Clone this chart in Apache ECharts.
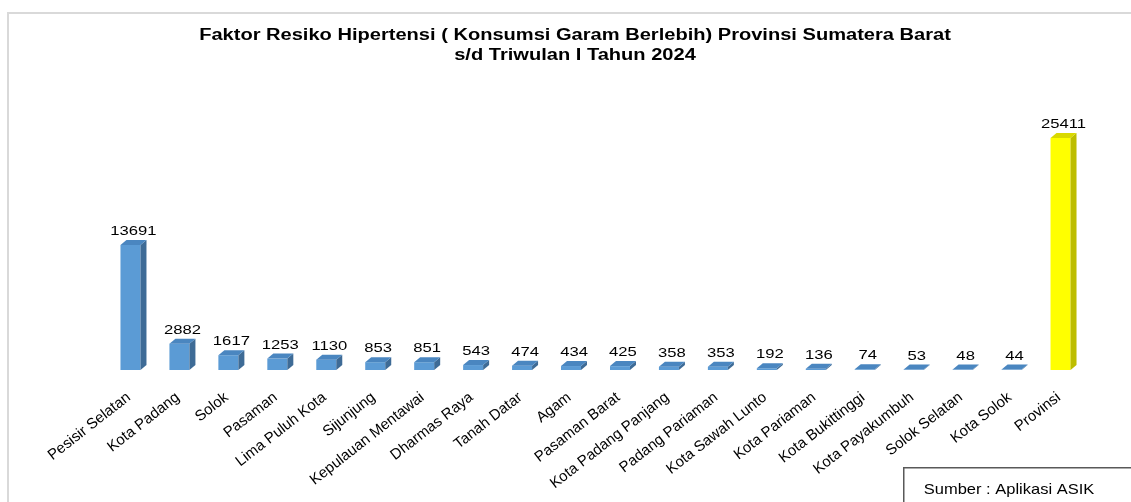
<!DOCTYPE html>
<html>
<head>
<meta charset="utf-8">
<script src="https://cdn.jsdelivr.net/npm/echarts@6/dist/echarts.min.js"></script>
<style>
  html, body { margin: 0; padding: 0; background: #fff; }
  #chart { width: 1131px; height: 502px; }
</style>
</head>
<body>
<div id="chart"></div>
<script>
const titleLines = ['Faktor Resiko Hipertensi ( Konsumsi Garam Berlebih) Provinsi Sumatera Barat', 's/d Triwulan I Tahun 2024']
const categories = ['Pesisir Selatan', 'Kota Padang', 'Solok', 'Pasaman', 'Lima Puluh Kota', 'Sijunjung',
  'Kepulauan Mentawai', 'Dharmas Raya', 'Tanah Datar', 'Agam', 'Pasaman Barat', 'Kota Padang Panjang',
  'Padang Pariaman', 'Kota Sawah Lunto', 'Kota Pariaman', 'Kota Bukittinggi', 'Kota Payakumbuh',
  'Solok Selatan', 'Kota Solok', 'Provinsi']
const values = [13691, 2882, 1617, 1253, 1130, 853, 851, 543, 474, 434, 425, 358, 353, 192, 136, 74, 53, 48, 44, 25411]
const highlightName = 'Provinsi'
const sourceText = 'Sumber : Aplikasi ASIK'

const FONT = '"Liberation Sans", Arial, sans-serif'
// the original picture is a bit stretched sideways
const stretch = 1.28

const chart = echarts.init(document.getElementById('chart'))

const colors = {
  normal: { front: '#5b9bd5', side: '#3e6b96', top: '#4a86c0' },
  highlight: { front: '#ffff00', side: '#bdbd00', top: '#d9d900' }
}

function renderBar(params, api) {
  const idx = api.value(0)
  const base = api.coord([idx, 0])
  const top = api.coord([idx, api.value(1)])
  const w = 20
  const dx = 6
  const dy = 5
  const x0 = top[0] - w / 2 - dx / 2
  const x1 = x0 + w
  const c = categories[idx] === highlightName ? colors.highlight : colors.normal
  return {
    type: 'group',
    children: [
      {
        type: 'rect',
        shape: { x: x0, y: top[1], width: w, height: base[1] - top[1] },
        style: { fill: c.front }
      },
      {
        type: 'polygon',
        shape: { points: [[x1, top[1]], [x1 + dx, top[1] - dy], [x1 + dx, base[1] - dy], [x1, base[1]]] },
        style: { fill: c.side }
      },
      {
        type: 'polygon',
        shape: { points: [[x0, top[1]], [x0 + dx, top[1] - dy], [x1 + dx, top[1] - dy], [x1, top[1]]] },
        style: { fill: c.top }
      },
      {
        type: 'text',
        x: x0 + (w + dx) / 2,
        y: top[1] - dy - 2,
        scaleX: stretch,
        style: {
          x: 0,
          y: 0,
          text: String(api.value(1)),
          align: 'center',
          verticalAlign: 'bottom',
          fill: '#000',
          font: '13px ' + FONT
        }
      }
    ]
  }
}

chart.setOption({
  animation: false,
  backgroundColor: '#fff',
  grid: {
    left: 109,
    right: 43,
    top: 96,
    bottom: 132
  },
  xAxis: {
    type: 'category',
    data: categories,
    axisLine: { show: false },
    axisTick: { show: false },
    axisLabel: {
      rotate: 38,
      interval: 0,
      margin: 22,
      padding: [0, 6, 0, 0],
      color: '#000',
      fontSize: 15,
      fontFamily: FONT
    }
  },
  yAxis: {
    type: 'value',
    min: 0,
    max: 30000,
    show: false,
    splitLine: { show: false }
  },
  graphic: [
    {
      type: 'rect',
      shape: { x: 8, y: 13, width: 1200, height: 600 },
      style: { fill: 'none', stroke: '#d9d9d9', lineWidth: 2 },
      z: 0
    },
    {
      type: 'text',
      x: 575,
      y: 36,
      scaleX: stretch * 0.98,
      style: {
        text: titleLines[0],
        align: 'center',
        verticalAlign: 'middle',
        fill: '#000',
        font: 'bold 16px ' + FONT
      }
    },
    {
      type: 'text',
      x: 575,
      y: 56,
      scaleX: stretch * 0.98,
      style: {
        text: titleLines[1],
        align: 'center',
        verticalAlign: 'middle',
        fill: '#000',
        font: 'bold 16px ' + FONT
      }
    },
    {
      type: 'group',
      left: 903,
      top: 467,
      children: [
        {
          type: 'rect',
          shape: { x: 0, y: 0, width: 300, height: 60 },
          style: { fill: '#fff', stroke: '#595959', lineWidth: 1.5 }
        },
        {
          type: 'text',
          x: 20,
          y: 22,
          scaleX: 1.1,
          style: {
            text: sourceText,
            verticalAlign: 'middle',
            fill: '#000',
            font: '15px ' + FONT
          }
        }
      ]
    }
  ],
  series: [
    {
      type: 'custom',
      renderItem: renderBar,
      data: values.map((v, i) => [i, v]),
      encode: { x: 0, y: 1 }
    }
  ]
})
</script>
</body>
</html>
